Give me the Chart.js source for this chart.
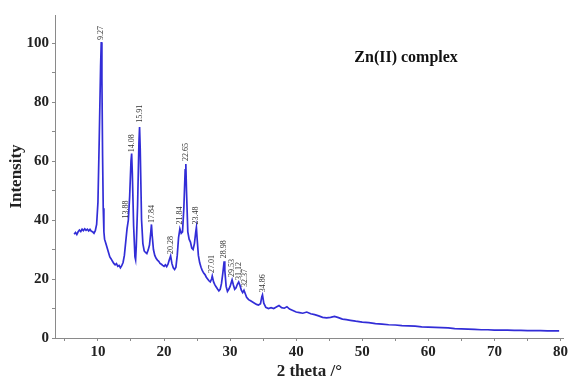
<!DOCTYPE html>
<html>
<head>
<meta charset="utf-8">
<script src="https://cdn.jsdelivr.net/npm/chart.js@4.4.0/dist/chart.umd.min.js"></script>
<style>
  html, body { margin: 0; padding: 0; background: #fff; }
  #wrap { width: 570px; height: 382px; }
</style>
</head>
<body>
<div id="wrap"><canvas id="xrd"></canvas></div>
<script>
const twoTheta = [
  6.4, 6.6, 6.8, 7.0, 7.2, 7.4, 7.6, 7.8, 8.0, 8.2, 8.4, 8.6, 8.8, 9.0, 9.2, 9.4, 9.6, 9.8,
  10.0, 10.2, 10.4, 10.5, 10.6, 10.7, 10.8, 10.9, 11.0, 11.2, 11.4, 11.6, 11.8, 12.0, 12.2, 12.4,
  12.6, 12.8, 13.0, 13.2, 13.4, 13.6, 13.8, 14.0, 14.2, 14.4, 14.6, 14.8, 15.0, 15.1, 15.2, 15.4,
  15.6, 15.7, 15.8, 16.0, 16.2, 16.3, 16.4, 16.6, 16.8, 17.0, 17.2, 17.4, 17.6, 17.8, 18.0, 18.1,
  18.2, 18.4, 18.6, 18.8, 19.0, 19.2, 19.4, 19.6, 19.8, 20.0, 20.2, 20.4, 20.6, 20.8, 21.0, 21.2,
  21.4, 21.6, 21.8, 22.0, 22.2, 22.4, 22.6, 22.8, 23.0, 23.2, 23.3, 23.4, 23.6, 23.8, 24.0, 24.2,
  24.4, 24.6, 24.8, 24.9, 25.0, 25.2, 25.4, 25.6, 25.8, 26.0, 26.2, 26.4, 26.6, 26.8, 27.0, 27.2,
  27.3, 27.5, 27.7, 27.9, 28.1, 28.3, 28.5, 28.7, 28.9, 29.1, 29.2, 29.4, 29.6, 29.8, 30.0, 30.2,
  30.3, 30.5, 30.7, 30.9, 31.1, 31.3, 31.5, 31.7, 31.9, 32.1, 32.3, 32.5, 32.8, 33.1, 33.4, 33.7,
  34.0, 34.3, 34.6, 34.8, 34.9, 35.1, 35.4, 35.8, 36.2, 36.6, 37.0, 37.4, 37.8, 38.2, 38.6, 39.0,
  39.5, 40.0, 40.5, 41.0, 41.6, 42.2, 42.8, 43.4, 44.0, 44.6, 45.2, 45.8, 46.4, 47.0, 47.6, 48.2,
  49, 50, 51, 52, 53, 54, 55, 56, 57, 58, 59, 60, 61, 62, 63, 64, 65, 66, 67, 68, 69, 70,
  71, 72, 73, 74, 75, 76, 77, 78, 79, 79.8
];
const intensity = [
  35.2, 35.8, 35.1, 36.0, 36.6, 36.1, 36.9, 36.4, 37.0, 36.5, 36.9, 36.3, 36.8, 36.2, 36.0, 35.5, 36.4, 38.5,
  46, 68, 92, 100.3, 88, 62, 44, 36, 33.5, 32.0, 30.5, 29.0, 27.5, 26.8, 26.0, 25.3,
  24.8, 25.2, 24.3, 24.6, 23.8, 24.5, 25.6, 28.0, 32.5, 37.0, 40, 48, 60, 62.5, 56, 38,
  27.5, 26.5, 31, 45, 66, 71.5, 64, 40, 32, 29.5, 29.0, 28.6, 29.8, 31.5, 36, 38.5,
  35, 30, 28.0, 27.0, 26.4, 26.0, 25.3, 25.0, 24.6, 24.3, 24.8, 24.2, 25.0, 26.5, 27.8, 25.2,
  23.8, 23.2, 24.0, 28, 34, 37.0, 35.5, 36.0, 44, 57, 59, 50, 36, 33.5, 32.5, 30.5,
  30.0, 32, 36, 37.5, 34, 28, 25.5, 24.0, 22.8, 22.0, 21.5, 20.6, 20.0, 19.4, 19.0, 20.0,
  21.0, 19.0, 18.0, 17.3, 16.6, 16.0, 16.5, 18.5, 22, 26.0, 23, 17.5, 15.8, 16.5, 17.5, 19.0,
  19.7, 18.0, 16.5, 17.0, 18.2, 19.0, 17.8, 16.2, 15.4, 16.2, 15.0, 13.8, 13.0, 12.6, 12.2, 11.8,
  11.4, 11.2, 11.6, 14.0, 14.6, 11.8, 10.4, 10.0, 10.3, 10.0, 10.5, 11.0, 10.3, 10.1, 10.6, 9.8,
  9.3, 8.8, 8.6, 8.4, 8.8, 8.2, 7.9, 7.5, 7.0, 6.8, 7.0, 7.3, 6.9, 6.4, 6.2, 6.0,
  5.7, 5.4, 5.2, 4.9, 4.7, 4.5, 4.4, 4.2, 4.1, 4.0, 3.8, 3.7, 3.6, 3.5, 3.4, 3.2, 3.1, 3.0, 2.9, 2.8, 2.8, 2.7,
  2.7, 2.7, 2.6, 2.6, 2.5, 2.5, 2.5, 2.4, 2.4, 2.4
];

// peak annotations
const peakLabels = ["9.27", "13.88", "14.08", "15.91", "17.84", "20.28", "21.84", "22.65",
  "23.48", "27.01", "28.98", "29.53", "31.12", "32.37", "34.86"];
const peakX = [10.5, 14.3, 15.1, 16.3, 18.1, 21.0, 22.4, 23.3, 24.9, 27.3, 29.1, 30.3, 31.3, 32.2, 34.9];
const peakLabelY = [101, 40.5, 63, 73, 39, 28.5, 38.5, 60, 38.5, 22, 27, 20.7, 19.7, 17.3, 15.5];

const xTicks = [10, 20, 30, 40, 50, 60, 70, 80];
const yTicks = [0, 20, 40, 60, 80, 100];

const points = twoTheta.map((t, i) => ({ x: t, y: intensity[i] }));

// draws the peak positions and the sample name
const peakLabelPlugin = {
  id: "peakLabels",
  afterDatasetsDraw(chart) {
    const { ctx, scales } = chart;
    ctx.save();
    ctx.fillStyle = "#333";
    ctx.font = "8px 'Liberation Serif'";
    ctx.textAlign = "left";
    ctx.textBaseline = "middle";
    peakLabels.forEach((txt, i) => {
      const px = scales.x.getPixelForValue(peakX[i]);
      const py = scales.y.getPixelForValue(peakLabelY[i]);
      ctx.save();
      ctx.translate(px, py);
      ctx.rotate(-Math.PI / 2);
      ctx.fillText(txt, 0, 0);
      ctx.restore();
    });
    ctx.fillStyle = "#111";
    ctx.font = "bold 16px 'Liberation Serif'";
    ctx.fillText("Zn(II) complex", scales.x.getPixelForValue(48.8), scales.y.getPixelForValue(95));
    ctx.restore();
  }
};

const tickFont = { family: "'Liberation Serif'", size: 15, weight: "bold" };

new Chart(document.getElementById("xrd"), {
  type: "line",
  data: {
    datasets: [{
      data: points,
      borderColor: "rgb(50, 45, 215)",
      borderWidth: 1.7,
      pointRadius: 0,
      tension: 0,
      fill: false
    }]
  },
  options: {
    responsive: true,
    maintainAspectRatio: false,
    animation: false,
    layout: { padding: { top: 15, right: 5, left: 0, bottom: 0 } },
    plugins: { legend: { display: false }, tooltip: { enabled: false } },
    scales: {
      x: {
        type: "linear",
        min: 3.5,
        max: 80.5,
        border: { color: "#8a8a8a", width: 1 },
        grid: { drawOnChartArea: false, tickLength: 3, color: "#8a8a8a" },
        afterBuildTicks: (axis) => {
          const t = [];
          for (let v = 5; v <= 80; v += 5) t.push({ value: v });
          axis.ticks = t;
        },
        ticks: {
          color: "#222",
          font: tickFont,
          padding: 2,
          maxRotation: 0,
          autoSkip: false,
          callback: (v) => (xTicks.includes(v) ? String(v) : "")
        },
        title: {
          display: true,
          text: "2 theta /°",
          color: "#222",
          font: { family: "'Liberation Serif'", size: 17, weight: "bold" },
          padding: { top: 0, bottom: 0 }
        },
        afterFit: (axis) => { axis.height = 44; }
      },
      y: {
        min: 0,
        max: 109.5,
        border: { color: "#8a8a8a", width: 1 },
        grid: { drawOnChartArea: false, tickLength: 3, color: "#8a8a8a" },
        afterBuildTicks: (axis) => {
          const t = [];
          for (let v = 0; v <= 100; v += 10) t.push({ value: v });
          axis.ticks = t;
        },
        ticks: {
          color: "#222",
          font: tickFont,
          padding: 3,
          autoSkip: false,
          callback: (v) => (yTicks.includes(v) ? String(v) : "")
        },
        title: {
          display: true,
          text: "Intensity",
          color: "#222",
          font: { family: "'Liberation Serif'", size: 17, weight: "bold" },
          padding: { top: 6, bottom: 0 }
        },
        afterFit: (axis) => { axis.width = 55; }
      }
    }
  },
  plugins: [peakLabelPlugin]
});
</script>
</body>
</html>
